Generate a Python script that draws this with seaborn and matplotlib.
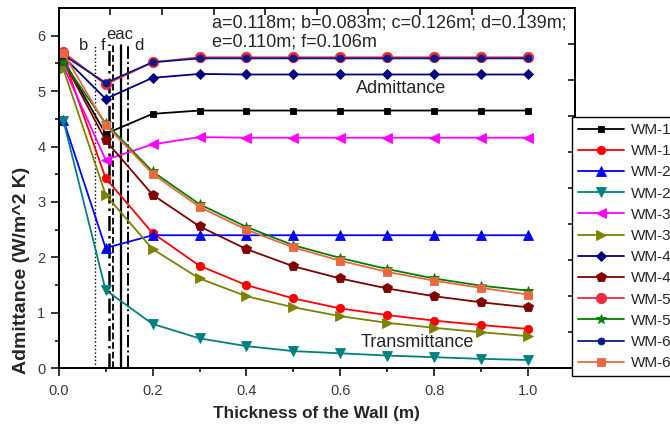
import numpy as np
import matplotlib
matplotlib.use('Agg')
import matplotlib.pyplot as plt
import seaborn as sns

# wall thickness (m)
thickness = [0.01, 0.1, 0.2, 0.3, 0.4, 0.5, 0.6, 0.7, 0.8, 0.9, 1.0]

# admittance / transmittance (W/m^2 K) per wall type
wm1_adm = [5.57, 4.23, 4.59, 4.65, 4.65, 4.65, 4.65, 4.65, 4.65, 4.65, 4.65]
wm1_trans = [5.60, 3.43, 2.44, 1.85, 1.50, 1.26, 1.08, 0.96, 0.86, 0.78, 0.71]
wm2_adm = [4.48, 2.17, 2.40, 2.40, 2.40, 2.40, 2.40, 2.40, 2.40, 2.40, 2.40]
wm2_trans = [4.47, 1.41, 0.80, 0.54, 0.40, 0.31, 0.27, 0.23, 0.20, 0.17, 0.15]
wm3_adm = [5.45, 3.76, 4.04, 4.17, 4.16, 4.16, 4.16, 4.16, 4.16, 4.16, 4.16]
wm3_trans = [5.40, 3.13, 2.15, 1.62, 1.30, 1.10, 0.94, 0.82, 0.73, 0.65, 0.58]
wm4_adm = [5.62, 4.86, 5.24, 5.31, 5.30, 5.30, 5.30, 5.30, 5.30, 5.30, 5.30]
wm4_trans = [5.55, 4.11, 3.13, 2.56, 2.15, 1.84, 1.62, 1.44, 1.30, 1.19, 1.10]
wm5_adm = [5.70, 5.12, 5.52, 5.61, 5.61, 5.61, 5.61, 5.61, 5.61, 5.61, 5.61]
wm5_trans = [5.52, 4.42, 3.55, 2.96, 2.55, 2.22, 1.99, 1.79, 1.62, 1.49, 1.40]
wm6_adm = [5.65, 5.15, 5.52, 5.59, 5.59, 5.59, 5.59, 5.59, 5.59, 5.59, 5.59]
wm6_trans = [5.69, 4.39, 3.51, 2.91, 2.50, 2.18, 1.94, 1.74, 1.58, 1.45, 1.33]

# legend text (only the wall type is visible in the original)
labels = ['WM-1', 'WM-1', 'WM-2', 'WM-2', 'WM-3', 'WM-3',
          'WM-4', 'WM-4', 'WM-5', 'WM-5', 'WM-6', 'WM-6']
series = [wm1_adm, wm1_trans, wm2_adm, wm2_trans, wm3_adm, wm3_trans,
          wm4_adm, wm4_trans, wm5_adm, wm5_trans, wm6_adm, wm6_trans]

# critical thicknesses drawn as vertical lines
mark_names = ['b', 'f', 'e', 'a', 'c', 'd']
mark_pos = [0.077, 0.108, 0.116, 0.131, 0.133, 0.148]

colors = ['#000000', '#ff0000', '#0000ff', '#008080', '#ff00ff', '#808000',
          '#000080', '#800000', '#ef2b3c', '#008000', '#0a1a8a', '#e9683f']
markers = ['s', 'o', '^', 'v', '<', '>', 'D', 'p', 'o', '*', 'o', 's']
msizes = [5, 6, 7, 7, 7, 7, 5.5, 7, 7.5, 7, 5, 6]
mark_styles = [':', (0, (6, 2, 1, 2)), '--', '-', '-', '-.']
mark_widths = [1.0, 1.8, 1.3, 0.9, 0.9, 1.4]

sns.set_style('ticks')
plt.rcParams['font.family'] = ['Liberation Sans', 'DejaVu Sans']

fig = plt.figure(figsize=(6.7, 4.24), dpi=100)
ax = fig.add_axes([0.0876, 0.1314, 0.7706, 0.8498])

for name, vals, c, m, ms in zip(labels, series, colors, markers, msizes):
    sns.lineplot(x=thickness, y=vals, color=c, marker=m, markersize=ms,
                 markeredgecolor=c, markeredgewidth=0.6, linewidth=1.3,
                 label=name, ax=ax, legend=False)

for x, ls, lw in zip(mark_pos, mark_styles, mark_widths):
    ax.vlines(x, 0, 5.85, colors='black', linestyles=[ls], linewidth=lw, zorder=1)

ax.set_xlim(0, 1.1)
ax.set_ylim(0, 6.5)
ax.set_xticks([0.0, 0.2, 0.4, 0.6, 0.8, 1.0])
ax.set_xticks(np.arange(0.1, 1.1, 0.2), minor=True)
ax.set_yticks(range(7))
ax.set_yticks(np.arange(0.5, 6.5, 1.0), minor=True)
ax.tick_params(which='major', direction='out', length=6, width=1.1,
               labelsize=10.5, labelcolor='#3a3a3a', color='black')
ax.tick_params(which='minor', direction='out', length=3, width=1.1, color='black')
ax.tick_params(axis='x', pad=5)
for s in ax.spines.values():
    s.set_linewidth(1.3)
    s.set_color('black')

ax.set_xlabel('Thickness of the Wall (m)', fontsize=12.3, fontweight='bold')
ax.set_ylabel('Admittance (W/m^2 K)', fontsize=14, fontweight='bold')
ax.xaxis.set_label_coords(0.5, -0.105)
ax.yaxis.set_label_coords(-0.056, 0.273)

# top / right frame ticks
ax_r = ax.twinx()
ax_r.set_ylim(0, 1)
ax_r.set_yticks(np.linspace(0, 1, 11))
ax_r.tick_params(direction='in', length=5, width=1.1, labelright=False, color='black')
ax_t = ax.twiny()
ax_t.set_xlim(0, 1)
ax_t.set_xticks(np.linspace(0, 1, 11))
ax_t.tick_params(direction='in', length=5, width=1.1, labeltop=False, color='black')
for a in (ax_r, ax_t):
    for s in a.spines.values():
        s.set_linewidth(1.3)
        s.set_color('black')

ax.text(0.052, 5.83, 'b', fontsize=12, ha='center', va='center')
ax.text(0.094, 5.83, 'f', fontsize=12, ha='center', va='center')
ax.text(0.13, 6.03, 'eac', fontsize=12, ha='center', va='center')
ax.text(0.171, 5.83, 'd', fontsize=12, ha='center', va='center')

ax.text(0.326, 6.23, 'a=0.118m; b=0.083m; c=0.126m; d=0.139m;', fontsize=13,
        ha='left', va='center')
ax.text(0.326, 5.88, 'e=0.110m; f=0.106m', fontsize=13, ha='left', va='center')
ax.text(0.73, 5.04, 'Admittance', fontsize=13, ha='center', va='center')
ax.text(0.764, 0.46, 'Transmittance', fontsize=13, ha='center', va='center')

handles, names = ax.get_legend_handles_labels()
leg = fig.legend(handles, names, loc='upper left',
                 bbox_to_anchor=(572 / 670, 1 - 117 / 424),
                 bbox_transform=fig.transFigure, frameon=True, fancybox=False,
                 edgecolor='black', fontsize=11, handlelength=3.0,
                 labelspacing=0.47, borderaxespad=0, borderpad=0.4,
                 handletextpad=0.45)
leg.get_frame().set_linewidth(1.0)
leg.get_frame().set_alpha(1)

fig.savefig('out.png', dpi=100)
